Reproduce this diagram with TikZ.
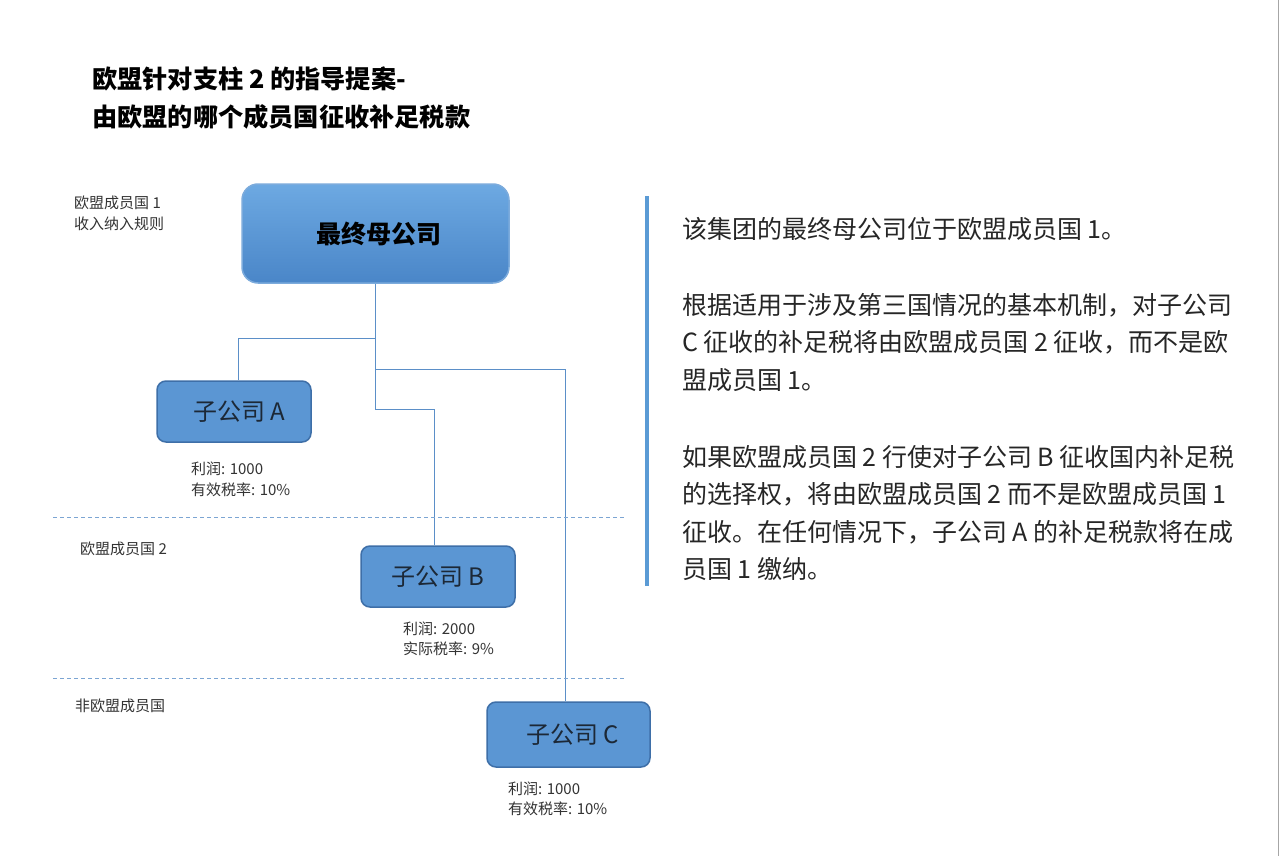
\documentclass[tikz,border=0pt]{standalone}
\usepackage{fontspec}
\setmainfont{Noto Sans CJK SC}
\definecolor{boxblue}{HTML}{5B96D3}
\definecolor{boxtop}{HTML}{6DA9E2}
\definecolor{boxbot}{HTML}{4A86C8}
\definecolor{edgeblue}{HTML}{3E6FA8}
\definecolor{lineblue}{HTML}{5B8FC8}
\definecolor{barblue}{HTML}{5B9BD5}
\definecolor{boxtext}{HTML}{1C2836}
\definecolor{notegray}{HTML}{333333}

\begin{document}
\begin{tikzpicture}[x=1pt,y=-1pt,
  company/.style={draw=edgeblue,line width=1.5pt,rounded corners=9pt,fill=boxblue,
    minimum width=154pt,minimum height=61pt,text=boxtext,font=\fontsize{24}{28}\selectfont},
  link/.style={lineblue,line width=1pt},
  border/.style={lineblue!80,line width=1pt,dash pattern=on 4pt off 3pt},
  note/.style={anchor=north west,align=left,inner sep=0pt,text=notegray,
    font=\fontsize{15}{20.5}\selectfont},
  para/.style={anchor=north west,align=left,inner sep=0pt,text=black!85,
    font=\fontsize{25}{37.5}\selectfont}]
\useasboundingbox[fill=white] (0,0) rectangle (1280,856);
\draw[black!35,line width=1.5pt] (1278.5,0) -- (1278.5,856);

% title
\node[anchor=north west,align=left,inner sep=0pt,font=\fontsize{25.2}{38}\selectfont\bfseries]
  (title) at (92,67) {欧盟针对支柱 2 的指导提案-\\由欧盟的哪个成员国征收补足税款};

% boxes
\node[company,minimum width=267pt,minimum height=99pt,rounded corners=16pt,
  draw=boxblue!80,top color=boxtop,bottom color=boxbot,text=black,
  font=\fontsize{25}{28}\selectfont\bfseries] (top) at (375.5,233.5) {\hspace{6pt}\raisebox{-4pt}{最终母公司}};
\node[company] (subA) at (234,411.5) {\hspace{10pt}子公司 A};
\node[company] (subB) at (438,576.5) {子公司 B};
\node[company,minimum width=163pt,minimum height=65pt] (subC) at (568.5,734.5) {\hspace{8pt}子公司 C};

% connectors
\coordinate (jA) at (375.5,338);
\coordinate (jC) at (375.5,369);
\coordinate (jB) at (375.5,409);
\draw[link] (top.south) -- (jB) -| ([xshift=-4pt]subB.north);
\draw[link] (jA) -| ([xshift=4pt]subA.north);
\draw[link] (jC) -| ([xshift=-3.5pt]subC.north);

% country borders
\draw[border] (53,517) -- (625,517);
\draw[border] (53,678) -- (625,678);

% labels
\node[note] (eu1) at (74,196) {欧盟成员国 1\\收入纳入规则};
\node[note] (eu2) at (80,542) {欧盟成员国 2};
\node[note] (noneu) at (75,699) {非欧盟成员国};
\node[note] (dataA) at (191,462) {利润: 1000\\有效税率: 10\%};
\node[note,font=\fontsize{15}{19.5}\selectfont] (dataB) at (403,622) {利润: 2000\\实际税率: 9\%};
\node[note,font=\fontsize{15}{19.5}\selectfont] (dataC) at (508,782) {利润: 1000\\有效税率: 10\%};

% right text
\draw[barblue,line width=4pt] (647,196) -- (647,586);
\node[para] (p1) at (682,217) {该集团的最终母公司位于欧盟成员国 1。};
\node[para] (p2) at (682,293) {根据适用于涉及第三国情况的基本机制，对子公司\\C 征收的补足税将由欧盟成员国 2 征收，而不是欧\\盟成员国 1。};
\node[para] (p3) at (682,445) {如果欧盟成员国 2 行使对子公司 B 征收国内补足税\\的选择权，将由欧盟成员国 2 而不是欧盟成员国 1\\征收。在任何情况下，子公司 A 的补足税款将在成\\员国 1 缴纳。};
\end{tikzpicture}
\end{document}
